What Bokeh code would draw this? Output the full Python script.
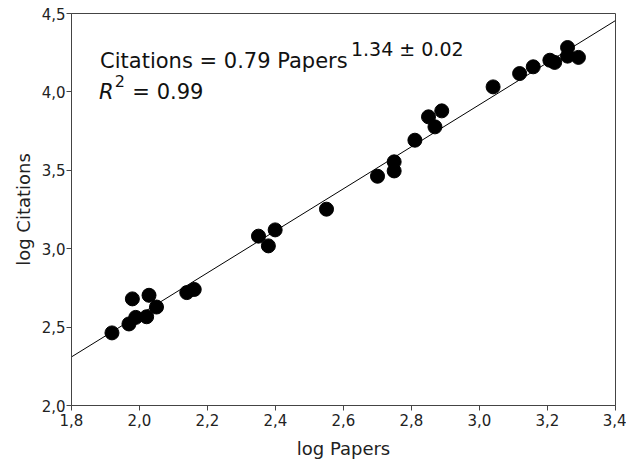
from bokeh.plotting import figure
from bokeh.models import FixedTicker, Label, Range1d
from bokeh.embed import file_html
from bokeh.resources import INLINE

# data (log10 values)
log_papers = [1.919, 1.969, 1.979, 1.989, 2.021, 2.028, 2.050, 2.139, 2.161,
              2.350, 2.379, 2.399, 2.550,
              2.700, 2.749, 2.749, 2.810, 2.850, 2.869, 2.889,
              3.040, 3.118, 3.158, 3.207, 3.221, 3.259, 3.259, 3.291]
log_citations = [2.463, 2.520, 2.680, 2.562, 2.566, 2.703, 2.628, 2.720, 2.740,
                 3.080, 3.018, 3.120, 3.252,
                 3.462, 3.496, 3.554, 3.692, 3.841, 3.777, 3.879,
                 4.032, 4.117, 4.160, 4.202, 4.188, 4.283, 4.228, 4.220]

fit_x = [1.8, 3.4]
fit_y = [2.31, 4.455]

x_ticks = [1.8, 2.0, 2.2, 2.4, 2.6, 2.8, 3.0, 3.2, 3.4]
x_tick_labels = ["1,8", "2,0", "2,2", "2,4", "2,6", "2,8", "3,0", "3,2", "3,4"]
y_ticks = [2.0, 2.5, 3.0, 3.5, 4.0, 4.5]
y_tick_labels = ["2,0", "2,5", "3,0", "3,5", "4,0", "4,5"]

FONT = "DejaVu Sans"
AX = "#444444"

p = figure(frame_width=544, frame_height=392, output_backend="svg", toolbar_location=None,
           x_range=Range1d(1.8, 3.4), y_range=Range1d(2.0, 4.5),
           min_border_left=71, min_border_right=11, min_border_top=13, min_border_bottom=57)
p.xgrid.visible = False
p.ygrid.visible = False
p.outline_line_color = AX
p.outline_line_width = 1
p.background_fill_color = "white"
p.border_fill_color = "white"

for ax in (p.xaxis[0], p.yaxis[0]):
    ax.axis_line_color = AX
    ax.major_tick_line_color = AX
    ax.minor_tick_line_color = None
    ax.major_tick_in = 0
    ax.major_tick_out = 5
    ax.major_label_text_font = FONT
    ax.major_label_text_font_size = "15px"
    ax.major_label_text_color = "#222222"
    ax.axis_label_text_font = FONT
    ax.axis_label_text_font_size = "18px"
    ax.axis_label_text_font_style = "normal"
    ax.axis_label_text_color = "#222222"

p.xaxis.ticker = FixedTicker(ticks=x_ticks)
p.yaxis.ticker = FixedTicker(ticks=y_ticks)
p.xaxis.major_label_overrides = dict(zip(x_ticks, x_tick_labels))
p.yaxis.major_label_overrides = dict(zip(y_ticks, y_tick_labels))
p.xaxis.axis_label = "log Papers"
p.yaxis.axis_label = "log Citations"
p.xaxis.major_label_standoff = 3
p.xaxis.axis_label_standoff = 9
p.yaxis.major_label_standoff = 1
p.yaxis.axis_label_standoff = 5

p.line(fit_x, fit_y, line_color="black", line_width=1)
p.scatter(log_papers, log_citations, size=14, fill_color="black", line_color="black")

eq_font = dict(text_font=FONT, text_color="#111111", text_baseline="alphabetic")
p.add_layout(Label(x=1.884, y=4.196, text="Citations = 0.79 Papers",
                   text_font_size="21px", **eq_font))
p.add_layout(Label(x=2.622, y=4.272, text="1.34 ± 0.02",
                   text_font_size="19px", **eq_font))
p.add_layout(Label(x=1.881, y=3.997, text="R", text_font_style="italic",
                   text_font_size="21px", **eq_font))
p.add_layout(Label(x=1.927, y=4.072, text="2",
                   text_font_size="16px", **eq_font))
p.add_layout(Label(x=1.979, y=3.997, text="= 0.99",
                   text_font_size="21px", **eq_font))

open("out.html", "w").write(file_html(p, INLINE))
